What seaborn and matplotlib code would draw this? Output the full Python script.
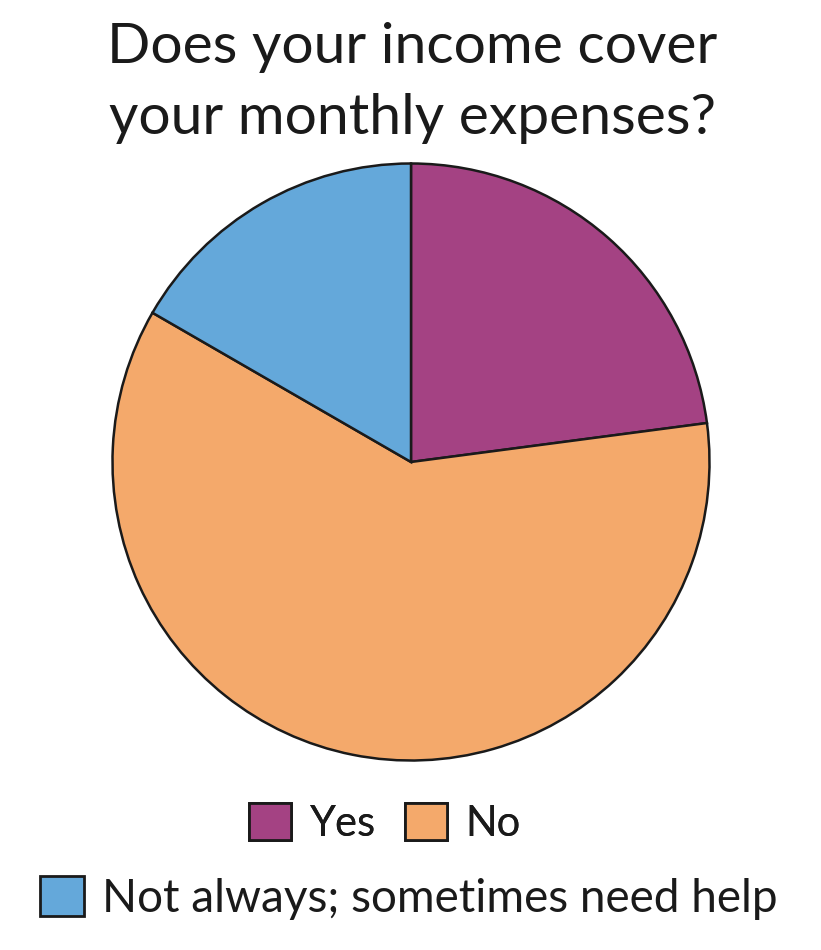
import matplotlib
matplotlib.use("Agg")
import matplotlib.pyplot as plt
import seaborn as sns
from matplotlib.patches import Patch

categories = ["Yes", "No", "Not always; sometimes need help"]
counts = [11, 29, 8]
colors = ["#A44283", "#F4A96B", "#64A8DA"]
title = "Does your income cover\nyour monthly expenses?"

sns.set_theme(style="white")
plt.rcParams['font.family'] = ['Lato', 'DejaVu Sans']

fig = plt.figure(figsize=(8.21, 9.5), dpi=100)
ax = fig.add_axes([111/821, (950-762)/950, 600/821, 600/950])
ax.pie(counts, colors=colors, startangle=90, counterclock=False,
       wedgeprops=dict(edgecolor="#1a1a1a", linewidth=1.8), radius=1.0)
ax.set_xlim(-1.005, 1.005)
ax.set_ylim(-1.005, 1.005)
ax.set_aspect("equal")
ax.axis("off")

fig.text(412/821, 1 - 83/950, title, ha="center", va="center", fontsize=41,
         color="#1a1a1a", linespacing=1.5)

handles = [Patch(facecolor=c, edgecolor="#1a1a1a", linewidth=2) for c in colors]
leg1 = fig.legend(handles[:2], categories[:2], loc="center",
                  bbox_to_anchor=(385/821, 1 - 823/950), ncol=2, frameon=False,
                  fontsize=30, handlelength=1.0, handleheight=1.0,
                  handletextpad=0.45, columnspacing=0.7, labelcolor="#1a1a1a")
leg2 = fig.legend(handles[2:], categories[2:], loc="center",
                  bbox_to_anchor=(409/821, 1 - 898/950), ncol=1, frameon=False,
                  fontsize=33, handlelength=0.95, handleheight=0.95,
                  handletextpad=0.4, labelcolor="#1a1a1a")
fig.add_artist(leg1)

fig.savefig("out.png", dpi=100, facecolor="white")
